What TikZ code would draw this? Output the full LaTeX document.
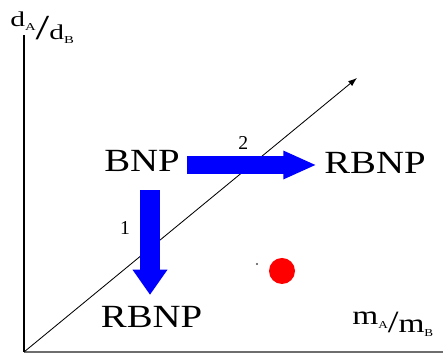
\documentclass[tikz,border=0pt]{standalone}
\usepackage{fontspec}
\setmainfont{Liberation Serif}
\usepackage{graphicx}
\definecolor{phblue}{RGB}{0,0,255}
\definecolor{phred}{RGB}{255,0,0}
\definecolor{axgray}{RGB}{110,110,110}
\usetikzlibrary{arrows.meta,positioning}

\newcommand{\widetext}[1]{\scalebox{1.2}[1]{#1}}
\newcommand{\lowsub}[1]{\raisebox{-2.5pt}{\fontsize{7.5}{7.5}\selectfont #1}}

\begin{document}
\begin{tikzpicture}[
  phase/.style={inner sep=0pt,font=\fontsize{23}{23}\selectfont},
  axlabel/.style={inner sep=0pt,anchor=base west},
  yaxis/.style={line width=1.4pt},
  xaxis/.style={line width=1.2pt,axgray},
  diag/.style={line width=0.6pt,-{Latex[length=2.2mm,width=1.6mm]}},
  hblock/.style={line width=0.43cm,phblue,-{Triangle[length=0.83cm,width=0.65cm]}},
  vblock/.style={line width=0.52cm,phblue,-{Triangle[length=0.63cm,width=0.83cm]}},
  num/.style={inner sep=0pt,black,font=\fontsize{14}{14}\selectfont}
]
  \useasboundingbox (0,0) rectangle (11.075,8.875);

  % Axes
  \coordinate (orig) at (0.6,0.075);
  \coordinate (ytop) at (0.6,8.0);
  \coordinate (xend) at (11.075,0.075);
  \coordinate (dend) at (8.925,6.925);
  \draw[xaxis] (orig) -- (xend);
  \draw[yaxis] (orig) -- (ytop);
  \draw[diag] (orig) -- (dend);

  % Axis labels
  \node[axlabel,font=\fontsize{15}{15}\selectfont] (ylab) at (0.25,7.875)
    {\scalebox{1.4}[1]{\raisebox{0.325cm}{d\lowsub{A}}{\fontsize{25}{25}\selectfont/}d\lowsub{B}}};
  \node[axlabel,font=\fontsize{19}{19}\selectfont] (xlab) at (8.8,0.55)
    {\scalebox{1.25}[1]{\raisebox{0.2cm}{m\lowsub{A}}{\fontsize{22}{22}\selectfont/}m\lowsub{B}}};

  % Phases
  \node[phase] (bnp) at (3.55,4.85) {\widetext{BNP}};
  \node[phase] (rbnpr) at (9.375,4.81) {\widetext{RBNP}};
  \node[phase] (rbnpb) at (3.79,0.96) {\widetext{RBNP}};

  % Transitions
  \draw[hblock,shorten <=0.185cm,shorten >=0.185cm]
    ([yshift=-0.1cm]bnp.east) -- ([yshift=-0.1cm]bnp.east -| rbnpr.west)
    node[num,pos=0.44,yshift=0.55cm] (lbltwo) {2};
  \draw[vblock,shorten <=0.455cm,shorten >=0.27cm]
    ([xshift=0.2cm]bnp.south) -- ([xshift=0.2cm]bnp.south |- rbnpb.north)
    node[num,pos=0.42,xshift=-0.625cm] (lblone) {1};

  % Points
  \fill[phred] (7.05,2.1) circle (0.325);
  \fill[black!70] (6.425,2.275) circle (0.03);
\end{tikzpicture}
\end{document}
